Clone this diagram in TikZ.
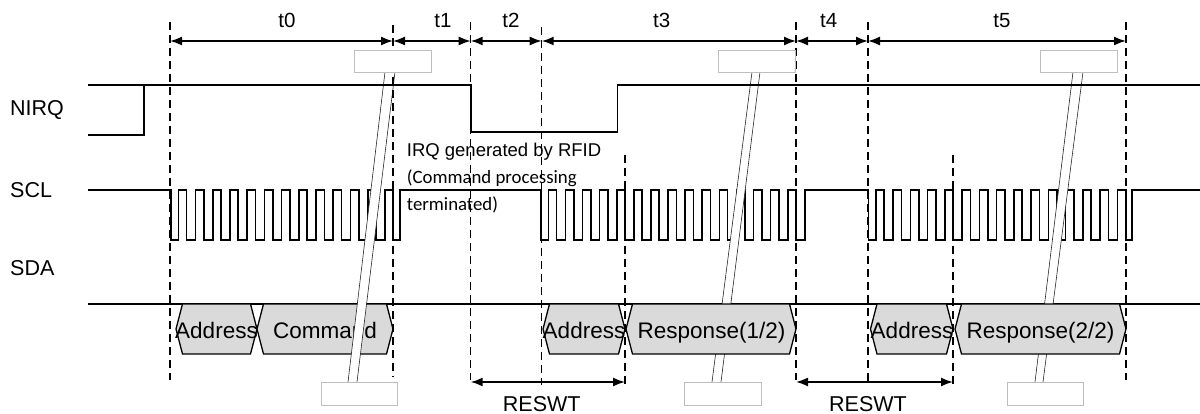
\documentclass[tikz,border=0pt]{standalone}
\usepackage{fontspec}
\setmainfont{Liberation Sans}
\newfontfamily\calibri{Carlito}
\usetikzlibrary{arrows.meta}
\definecolor{hexgray}{RGB}{218,218,218}
\definecolor{boxgray}{RGB}{190,190,190}
\newcommand\hexshape[2]{(#1,329) -- ({#1+6.5},304) -- ({#2-6.5},304) -- (#2,329) -- ({#2-6.5},354) -- ({#1+6.5},354) -- cycle}
\begin{document}
\begin{tikzpicture}[x=1pt,y=-1pt,
  sig/.style={line width=1.6pt, black, line join=miter},
  tmarker/.style={line width=1.4pt, black, dash pattern=on 8pt off 5pt},
  hexa/.style={draw=black, fill=hexgray, line width=1.3pt, line join=miter},
  bandline/.style={line width=0.6pt, black!85},
  brk/.style={draw=boxgray, fill=white, line width=0.8pt},
  dim/.style={line width=1.6pt, {Latex[length=12pt,width=9pt]}-{Latex[length=12pt,width=9pt]}},
  lbl/.style={font=\fontsize{21.5}{25}\selectfont, inner sep=0pt},
  tlbl/.style={font=\fontsize{20.5}{24}\selectfont, inner sep=0pt, anchor=base},
  hextxt/.style={font=\fontsize{22.5}{26}\selectfont, inner sep=0pt, anchor=base},
  note/.style={font=\fontsize{18.5}{22}\selectfont, inner sep=0pt, anchor=base west},
  cnote/.style={font=\calibri\fontsize{18.8}{22}\selectfont, inner sep=0pt, anchor=base west}]
\useasboundingbox (0,0) rectangle (1200,414);

% SDA line
\draw[sig] (88,304) -- (1200,304);
% first hexagons (under break band 1)
\draw[hexa] \hexshape{176}{257};
\draw[hexa] \hexshape{257}{393};
\node[hextxt] (addr1) at (216.5,338) {Address};
\node[hextxt] (cmd) at (325,338) {Command};

% SCL waveform
\draw[sig] (88,190) -- (170.7,190) -- (170.7,240)
  \foreach \k in {0,...,12}{ -- ({178.3+17.22*\k},240) -- ({178.3+17.22*\k},190) -- ({186.6+17.22*\k},190) -- ({186.6+17.22*\k},240) }
  -- (400,240) -- (400,190) -- (540.7,190) -- (540.7,240)
  \foreach \k in {0,...,14}{ -- ({548.3+17.1*\k},240) -- ({548.3+17.1*\k},190) -- ({556.6+17.1*\k},190) -- ({556.6+17.1*\k},240) }
  -- (805,240) -- (805,190) -- (868.3,190) -- (868.3,240)
  \foreach \k in {0,...,14}{ -- ({875.9+17.25*\k},240) -- ({875.9+17.25*\k},190) -- ({884.2+17.25*\k},190) -- ({884.2+17.25*\k},240) }
  -- (1131.7,240) -- (1131.7,190) -- (1200,190);

% break bands
\fill[white] (348,382) -- (385,72) -- (395,72) -- (357,382) -- cycle;
\draw[bandline] (348,382) -- (385,72);
\draw[bandline] (357,382) -- (395,72);
\fill[white] (712,382) -- (752,72) -- (760,72) -- (721,382) -- cycle;
\draw[bandline] (712,382) -- (752,72);
\draw[bandline] (721,382) -- (760,72);
\fill[white] (1035,382) -- (1073,72) -- (1083,72) -- (1043,382) -- cycle;
\draw[bandline] (1035,382) -- (1073,72);
\draw[bandline] (1043,382) -- (1083,72);

% later hexagons (over bands)
\draw[hexa] \hexshape{543}{625};
\draw[hexa] \hexshape{626}{796};
\draw[hexa] \hexshape{870.5}{953};
\draw[hexa] \hexshape{955}{1126};
\node[hextxt] (addr2) at (584,338) {Address};
\node[hextxt] (resp1) at (711.5,338) {Response(1/2)};
\node[hextxt] (addr3) at (912,338) {Address};
\node[hextxt] (resp2) at (1040.5,338) {Response(2/2)};

% NIRQ waveform
\draw[sig] (88,85) -- (470.7,85) -- (470.7,132) -- (617.3,132) -- (617.3,85) -- (1200,85);
\draw[sig] (88,135) -- (144,135) -- (144,85);

% dashed time markers
\draw[tmarker] (170,22) -- (170,380);
\draw[tmarker] (393,25) -- (393,377);
\draw[tmarker] (470.7,22) -- (470.7,380);
\draw[tmarker] (541.7,27) -- (541.7,385);
\draw[tmarker] (625,155) -- (625,387);
\draw[tmarker] (796,22) -- (796,380);
\draw[tmarker] (868,22) -- (868,383);
\draw[tmarker] (953,155) -- (953,387);
\draw[tmarker] (1126,22) -- (1126,380);

% break boxes
\draw[brk] (354,50) rectangle (431,72);
\draw[brk] (718,50) rectangle (795,72);
\draw[brk] (1040,50) rectangle (1117,72);
\draw[brk] (321,382) rectangle (397,405);
\draw[brk] (684,382) rectangle (761,405);
\draw[brk] (1007,382) rectangle (1083,405);

% timing arrows
\coordinate (T0) at (170,41);
\coordinate (T1) at (393,41);
\coordinate (T2) at (470.7,41);
\coordinate (T3) at (541.7,41);
\coordinate (T4) at (796,41);
\coordinate (T5) at (868,41);
\coordinate (T6) at (1126,41);
\draw[dim] (T0) -- (T1);
\draw[dim] (T1) -- (T2);
\draw[dim] (T2) -- (T3);
\draw[dim] (T3) -- (T4);
\draw[dim] (T4) -- (T5);
\draw[dim] (T5) -- (T6);
\node[tlbl] (lt0) at (287,28) {t0};
\node[tlbl] (lt1) at (443,28) {t1};
\node[tlbl] (lt2) at (511,28) {t2};
\node[tlbl] (lt3) at (661.7,28) {t3};
\node[tlbl] (lt4) at (828.7,28) {t4};
\node[tlbl] (lt5) at (1002,28) {t5};

% RESWT arrows
\coordinate (R1a) at (470.7,382);
\coordinate (R1b) at (625,382);
\coordinate (R2a) at (796,382);
\coordinate (R2b) at (953,382);
\draw[dim] (R1a) -- (R1b);
\draw[dim] (R2a) -- (R2b);
\node[font=\fontsize{21.5}{26}\selectfont, inner sep=0pt, anchor=base] (rw1) at (541.7,411) {RESWT};
\node[font=\fontsize{21.5}{26}\selectfont, inner sep=0pt, anchor=base] (rw2) at (868,411) {RESWT};

% signal labels
\node[lbl, anchor=base west] (nirq) at (10,116) {NIRQ};
\node[lbl, anchor=base west] (scl) at (10,198) {SCL};
\node[lbl, anchor=base west] (sda) at (10,276) {SDA};

% annotation
\node[note] (irq1) at (406.7,157) {IRQ generated by RFID};
\node[cnote] (irq2) at (406.7,184) {(Command processing};
\node[cnote] (irq3) at (406.7,211) {terminated)};
\end{tikzpicture}
\end{document}
